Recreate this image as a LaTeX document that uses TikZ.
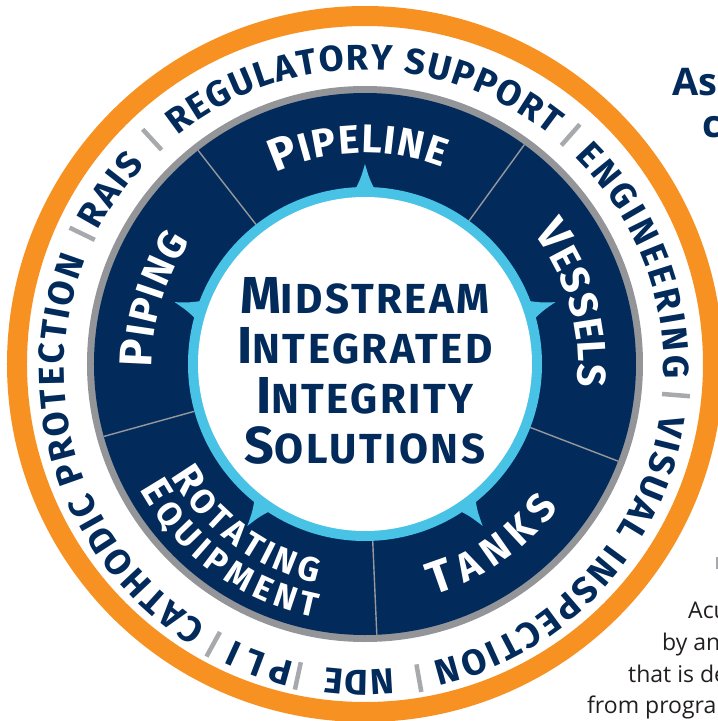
\documentclass[tikz,border=0pt]{standalone}
\usepackage{fontspec}
\setmainfont{Fira Sans}
\newfontfamily\bodyfont{Open Sans}
\newfontfamily\titlefont[LetterSpace=6]{Fira Sans}
\usetikzlibrary{decorations.text}
\definecolor{navy}{RGB}{2,43,92}
\definecolor{orng}{RGB}{246,145,34}
\definecolor{cyanring}{RGB}{72,194,229}
\definecolor{grayring}{RGB}{147,149,152}
\definecolor{sepgray}{RGB}{167,169,172}
\definecolor{divgray}{RGB}{150,152,156}
\definecolor{bodyblack}{RGB}{35,31,32}
\newcommand\myring{\fontsize{36}{36}\selectfont\bfseries}
\newcommand\lblbig{\fontsize{46}{46}\selectfont\bfseries}
\newcommand\lblsmall{\fontsize{40}{40}\selectfont\bfseries}
\newcommand\rotbig{\fontsize{41}{41}\selectfont\bfseries}
\newcommand\rotsmall{\fontsize{34}{34}\selectfont\bfseries}
\newcommand\cbig{\fontsize{52}{52}\selectfont\bfseries}
\newcommand\csmall{\fontsize{42}{42}\selectfont\bfseries}
% radius, start angle, end angle, colour, text
\newcommand\arctext[5]{%
  \path[decorate, decoration={text along path, text={#5}, text align={fit to path}, text color=#4}]
    (#2:#1) arc[start angle=#2, end angle=#3, radius=#1];}
\tikzset{
  dividerline/.style={draw=divgray, line width=1.4pt},
  sepbar/.style={draw=sepgray, line width=4.5pt},
  pointer/.style={fill=cyanring},
  centertext/.style={text=navy, inner sep=0pt, anchor=base, font=\titlefont},
  headtext/.style={text=navy, inner sep=0pt, anchor=base west, font=\bodyfont\bfseries\fontsize{38}{38}\selectfont},
  bodytext/.style={text=bodyblack, inner sep=0pt, anchor=base west, font=\bodyfont\fontsize{23}{23}\selectfont},
}
\begin{document}
\begin{tikzpicture}[x=1pt,y=1pt]
\useasboundingbox (-365,-357) rectangle (353,364);
\fill[white] (-365,-357) rectangle (353,364);
% orange ring
\fill[orng, even odd rule] (0,0) circle[radius=358] (0,0) circle[radius=338];
% gray ring and navy band
\fill[grayring] (0,0) circle[radius=278];
\fill[navy] (0,0) circle[radius=271];
% dividers between segments
\foreach \a in {128,54,-21,-87.5,195.5} {\draw[dividerline] (\a:177) -- (\a:271);}
% cyan ring with pointers
\fill[cyanring] (0,0) circle[radius=177];
\foreach \a in {90,18,-54,-126,162} {
  \fill[pointer, rotate=\a] (174,-10) .. controls (185,-4.5) .. (200,0) .. controls (185,4.5) .. (174,10) -- cycle;}
\fill[white] (0,0) circle[radius=167];
% outer ring texts
\begin{scope}[shift={(-1,-6)}]
  \arctext{300}{128.5}{51.4}{navy}{|\myring|REGULATORY SUPPORT}
  \arctext{300}{45.4}{-1.6}{navy}{|\myring|ENGINEERING}
  \arctext{300}{-8.6}{-76.8}{navy}{|\myring|VISUAL INSPECTION}
  \arctext{300}{-84.4}{-97.4}{navy}{|\myring|NDE}
  \arctext{300}{-103.4}{-115.6}{navy}{|\myring|PLI}
  \arctext{300}{238.4}{158.4}{navy}{|\myring|CATHODIC PROTECTION}
  \arctext{300}{152.4}{136.8}{navy}{|\myring|RAIS}
  \foreach \a in {48.7,-4.6,-79.9,-102.2,-118.8,154.2,132.6} {\draw[sepbar] (\a:299) -- (\a:327);}
\end{scope}
% segment labels
\arctext{211}{115}{68.5}{white}{|\lblbig|P|\lblsmall|IPELINE}
\arctext{213}{38}{-6}{white}{|\lblbig|V|\lblsmall|ESSELS}
\arctext{213}{181}{145}{white}{|\lblbig|P|\lblsmall|IPING}
\arctext{241}{-73.5}{-36.5}{white}{|\lblbig|T|\lblsmall|ANKS}
\arctext{224}{-150}{-102.5}{white}{|\rotbig|R|\rotsmall|OTATING}
\arctext{258}{-151}{-101}{white}{|\rotbig|E|\rotsmall|QUIPMENT}
% centre title
\node[centertext] (t1) at (0,51) {\cbig M\csmall IDSTREAM};
\node[centertext] (t2) at (0,1) {\cbig I\csmall NTEGRATED};
\node[centertext] (t3) at (0,-49) {\cbig I\csmall NTEGRITY};
\node[centertext] (t4) at (0,-99) {\cbig S\csmall OLUTIONS};
% cut-off texts on the right
\node[headtext] (h1) at (307,269) {As};
\node[headtext] (h2) at (337,226) {c};
\node[bodytext] (b1) at (323,-254) {Acu};
\node[bodytext] (b2) at (297,-286) {by an};
\node[bodytext] (b3) at (263,-318) {that is de};
\node[bodytext] (b4) at (222,-349) {from progra};
\fill[sepgray] (351,-193) rectangle (353,-205);
\end{tikzpicture}
\end{document}
